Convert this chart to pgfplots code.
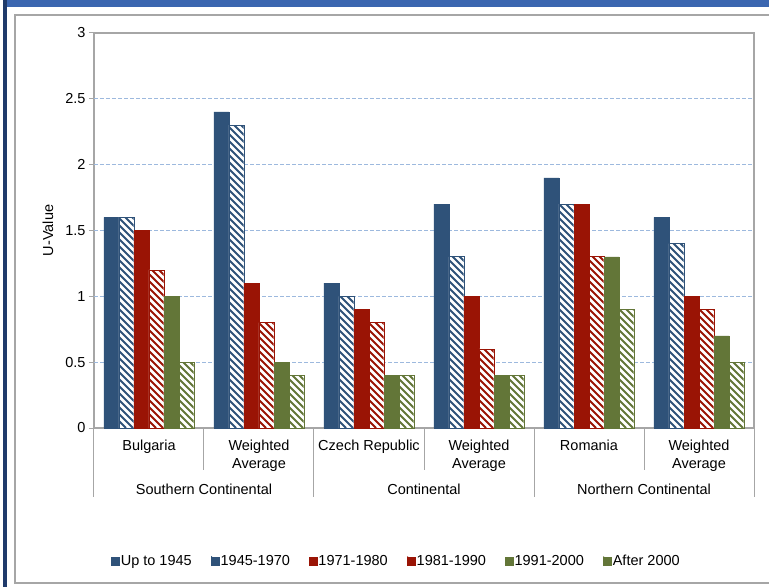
\documentclass[border=0pt]{standalone}
\usepackage{pgfplots}
\usepackage{pgfplotstable}
\pgfplotsset{compat=1.18}
\usepackage{fontspec}
\setmainfont{Liberation Sans}

\definecolor{cblue}{HTML}{2F5279}
\definecolor{cred}{HTML}{9A1405}
\definecolor{cgreen}{HTML}{637638}
\definecolor{gridblue}{HTML}{9DB9DE}
\definecolor{framegray}{HTML}{A6A6A6}
\definecolor{topband}{HTML}{3B66B0}
\definecolor{sideband}{HTML}{1F3A6B}

\newcommand{\lbl}{\fontsize{14.5}{18}\selectfont}

% U-values by construction period (columns A..F = periods, rows = categories)
\pgfplotstableread{
x A B C D E F
0 1.6 1.6 1.5 1.2 1.0 0.5
1 2.4 2.3 1.1 0.8 0.5 0.4
2 1.1 1.0 0.9 0.8 0.4 0.4
3 1.7 1.3 1.0 0.6 0.4 0.4
4 1.9 1.7 1.7 1.3 1.3 0.9
5 1.6 1.4 1.0 0.9 0.7 0.5
}\uvalues

\tikzset{
  solidbar/.style={fill=#1, draw=#1, line width=0.5pt},
  hatchbar/.style={fill=white, draw=#1, line width=0.9pt},
  sep/.style={framegray, line width=1pt},
}
\pgfplotsset{
  sqlegend/.style={legend image code/.code={\draw[##1] (0pt,-4pt) rectangle (8pt,4pt);}},
  hatchlegend/.style={legend image code/.code={%
    \begin{scope}
      \clip (0pt,-4pt) rectangle (8pt,4pt);
      \fill[white] (0pt,-4pt) rectangle (8pt,4pt);
      \draw[#1, line width=1.6pt] (-1pt,5pt) -- (9pt,-5pt);
    \end{scope}
    \draw[#1, line width=0.9pt] (0pt,-4pt) rectangle (8pt,4pt);}},
}

% Diagonal stripes inside the bars of one table column.
% #1 column, #2 left edge of the bar relative to the category (pt), #3 colour
\newcommand{\hatchbars}[3]{%
  \foreach \r in {0,...,5}{%
    \pgfplotstablegetelem{\r}{#1}\of\uvalues
    \let\hv\pgfplotsretval
    \begin{scope}
      \clip ([xshift={#2pt+0.45pt}]axis cs:\r,0) rectangle ([xshift={#2pt+14.55pt}, yshift=-0.45pt]axis cs:\r,\hv);
      \foreach \c in {0,7,...,420}{%
        \draw[#3, line width=2pt] ([xshift={#2pt+\c*1pt}]axis cs:\r,0) -- ++(-420pt,420pt);
      }
    \end{scope}
  }%
}

\begin{document}
\begin{tikzpicture}
\useasboundingbox (0,0) rectangle (769pt,587pt);
\fill[white] (0,0) rectangle (769pt,587pt);
% chart frame and page bands
\draw[framegray, line width=1.5pt] (15pt,4pt) rectangle (800pt,572pt);
\fill[topband] (3pt,580pt) rectangle (769pt,587pt);
\fill[sideband] (3pt,0pt) rectangle (7pt,587pt);

\begin{axis}[
  at={(94pt,159pt)}, anchor=south west,
  scale only axis, width=660pt, height=395pt,
  ybar=0pt, bar width=15pt,
  xmin=-0.5, xmax=5.5, ymin=0, ymax=3,
  xtick={0,1,2,3,4,5},
  xticklabels={Bulgaria, Weighted\\Average, Czech Republic, Weighted\\Average, Romania, Weighted\\Average},
  xtick style={draw=none},
  xticklabel style={align=center, anchor=north, yshift=-3.5pt},
  ytick={0,0.5,1,1.5,2,2.5,3},
  ytick pos=left,
  extra y ticks={0.5,1,1.5,2,2.5},
  extra y tick labels={},
  extra y tick style={grid=major, major tick length=0pt},
  grid style={gridblue, dash pattern=on 4pt off 2pt, line width=1pt},
  tick align=outside, major tick length=5pt,
  y tick style={framegray, line width=1pt},
  axis line style={framegray, line width=1.3pt},
  tick label style={font=\lbl},
  /pgf/number format/assume math mode=true,
  ylabel={U-Value},
  ylabel style={font=\lbl, at={(axis description cs:-0.0697,0.5)}, anchor=center},
  clip=false,
  legend columns=6,
  legend style={at={(0.4576,-0.3367)}, anchor=center, draw=none, fill=none,
    font=\lbl, nodes={inner xsep=1pt},
    /tikz/every even column/.append style={column sep=18pt}},
]
\addplot[solidbar=cblue, sqlegend] table[x=x, y=A] {\uvalues};
\addplot[hatchbar=cblue, hatchlegend=cblue] table[x=x, y=B] {\uvalues};
\addplot[solidbar=cred, sqlegend] table[x=x, y=C] {\uvalues};
\addplot[hatchbar=cred, hatchlegend=cred] table[x=x, y=D] {\uvalues};
\addplot[solidbar=cgreen, sqlegend] table[x=x, y=E] {\uvalues};
\addplot[hatchbar=cgreen, hatchlegend=cgreen] table[x=x, y=F] {\uvalues};
\legend{Up to 1945, 1945-1970, 1971-1980, 1981-1990, 1991-2000, After 2000}

% stripe fill of the white bars
\pgfplotsextra{%
  \hatchbars{B}{-30}{cblue}%
  \hatchbars{D}{0}{cred}%
  \hatchbars{F}{30}{cgreen}%
}

% two-level category separators
\draw[sep] (axis cs:0.5,0) -- ++(0pt,-42pt);
\draw[sep] (axis cs:2.5,0) -- ++(0pt,-42pt);
\draw[sep] (axis cs:4.5,0) -- ++(0pt,-42pt);
\draw[sep] (axis cs:-0.5,0) -- ++(0pt,-69pt);
\draw[sep] (axis cs:1.5,0) -- ++(0pt,-69pt);
\draw[sep] (axis cs:3.5,0) -- ++(0pt,-69pt);
\draw[sep] (axis cs:5.5,0) -- ++(0pt,-69pt);
% climate zone labels
\node[font=\lbl] at ([yshift=-61pt]axis cs:0.5,0) {Southern Continental};
\node[font=\lbl] at ([yshift=-61pt]axis cs:2.5,0) {Continental};
\node[font=\lbl] at ([yshift=-61pt]axis cs:4.5,0) {Northern Continental};
\end{axis}
\end{tikzpicture}
\end{document}
